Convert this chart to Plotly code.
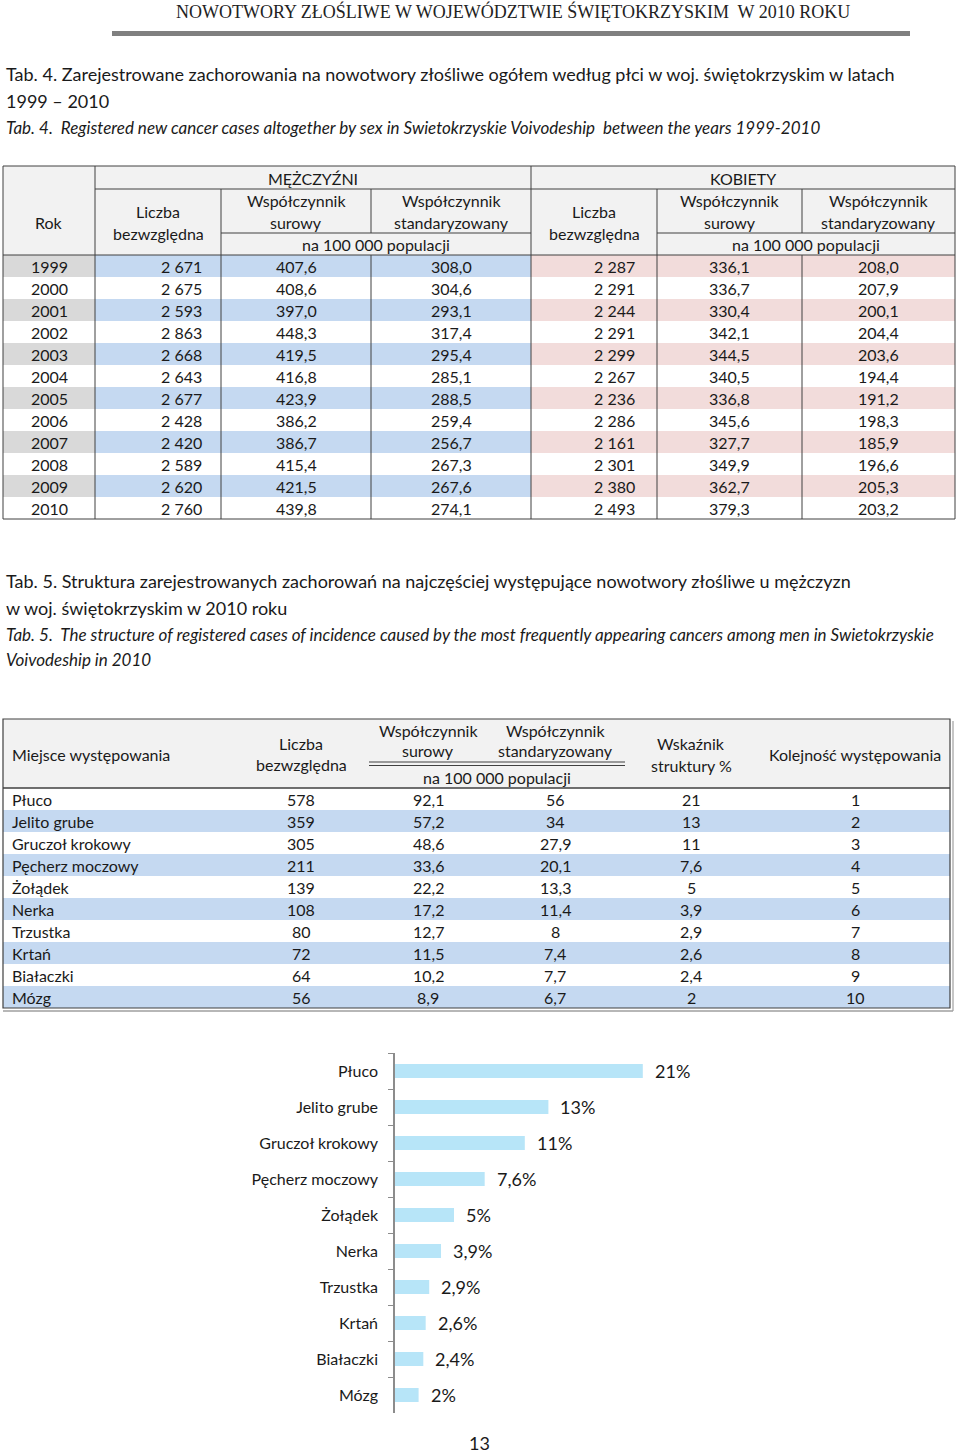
import plotly.graph_objects as go

# ---------------- data ----------------
years = [1999, 2000, 2001, 2002, 2003, 2004, 2005, 2006, 2007, 2008, 2009, 2010]
m_count = [2671, 2675, 2593, 2863, 2668, 2643, 2677, 2428, 2420, 2589, 2620, 2760]
m_crude = [407.6, 408.6, 397.0, 448.3, 419.5, 416.8, 423.9, 386.2, 386.7, 415.4, 421.5, 439.8]
m_std = [308.0, 304.6, 293.1, 317.4, 295.4, 285.1, 288.5, 259.4, 256.7, 267.3, 267.6, 274.1]
f_count = [2287, 2291, 2244, 2291, 2299, 2267, 2236, 2286, 2161, 2301, 2380, 2493]
f_crude = [336.1, 336.7, 330.4, 342.1, 344.5, 340.5, 336.8, 345.6, 327.7, 349.9, 362.7, 379.3]
f_std = [208.0, 207.9, 200.1, 204.4, 203.6, 194.4, 191.2, 198.3, 185.9, 196.6, 205.3, 203.2]

sites = ["Płuco", "Jelito grube", "Gruczoł krokowy", "Pęcherz moczowy", "Żołądek",
         "Nerka", "Trzustka", "Krtań", "Białaczki", "Mózg"]
site_count = [578, 359, 305, 211, 139, 108, 80, 72, 64, 56]
site_crude = [92.1, 57.2, 48.6, 33.6, 22.2, 17.2, 12.7, 11.5, 10.2, 8.9]
site_std = [56, 34, 27.9, 20.1, 13.3, 11.4, 8, 7.4, 7.7, 6.7]
site_share = [21, 13, 11, 7.6, 5, 3.9, 2.9, 2.6, 2.4, 2]
site_rank = [1, 2, 3, 4, 5, 6, 7, 8, 9, 10]

page_title = "NOWOTWORY ZŁOŚLIWE W WOJEWÓDZTWIE ŚWIĘTOKRZYSKIM\u00a0 W 2010 ROKU"
t4_pl1 = "Tab. 4. Zarejestrowane zachorowania na nowotwory złośliwe ogółem według płci w woj. świętokrzyskim w latach"
t4_pl2 = "1999 – 2010"
t4_en = "Tab. 4.\u00a0 Registered new cancer cases altogether by sex in Swietokrzyskie Voivodeship\u00a0 between the years 1999-2010"
t5_pl1 = "Tab. 5. Struktura zarejestrowanych zachorowań na najczęściej występujące nowotwory złośliwe u mężczyzn"
t5_pl2 = "w woj. świętokrzyskim w 2010 roku"
t5_en1 = "Tab. 5.\u00a0 The structure of registered cases of incidence caused by the most frequently appearing cancers among men in Swietokrzyskie"
t5_en2 = "Voivodeship in 2010"
page_no = "13"


def f1(v):
    return f"{v:.1f}".replace(".", ",")


def fg(v):
    return ("%g" % v).replace(".", ",")


def fth(n):
    return f"{n:,}".replace(",", " ")


# ---------------- styles ----------------
W, H = 960, 1453
TXT = "#1a1a1a"
LINE = "#404040"
HDR = "#f2f2f2"
GRAY = "#d9d9d9"
BLUE = "#c5d9f1"
PINK = "#f2dcdb"
BAR = "#b7e5f8"
BODY_FONT = "Lato, Calibri, Carlito, sans-serif"
TITLE_FONT = "Lato, sans-serif"
SERIF = "Liberation Serif, serif"
TITLE_SIZE = 18
SUB_SIZE = 17

shapes = []
annotations = []


def rect(x0, y0, x1, y1, fill):
    shapes.append(dict(type="rect", xref="x", yref="y", x0=x0, y0=y0, x1=x1, y1=y1,
                       fillcolor=fill, line=dict(width=0), layer="above"))


def line(x0, y0, x1, y1, color=LINE, width=1):
    shapes.append(dict(type="line", xref="x", yref="y", x0=x0, y0=y0, x1=x1, y1=y1,
                       line=dict(color=color, width=width), layer="above"))


def text(x, y, s, size=16, anchor="center", font=BODY_FONT, color=TXT):
    annotations.append(dict(xref="x", yref="y", x=x, y=y, text=s, showarrow=False,
                            xanchor=anchor, yanchor="middle",
                            font=dict(family=font, size=size, color=color)))


# ---------------- page header ----------------
text(513, 11, page_title, size=18, font=SERIF, color="#222")
line(112, 33.5, 910, 33.5, color="#808080", width=5)

text(4, 74, t4_pl1, size=TITLE_SIZE, anchor="left", font=TITLE_FONT)
text(4, 101, t4_pl2, size=TITLE_SIZE, anchor="left", font=TITLE_FONT)
text(4, 127, "<i>" + t4_en + "</i>", size=SUB_SIZE, anchor="left", font=TITLE_FONT)

# ---------------- table 4 ----------------
T1_TOP, T1_HDR_BOTTOM, ROW_H = 166, 255, 22
cols1 = [3, 95, 221, 371, 531, 657, 802, 955]
n1 = len(years)
T1_BOTTOM = T1_HDR_BOTTOM + ROW_H * n1

rect(cols1[0], T1_TOP, cols1[-1], T1_HDR_BOTTOM, HDR)
for i in range(n1):
    if i % 2 == 0:
        y0 = T1_HDR_BOTTOM + ROW_H * i
        rect(cols1[0], y0, cols1[1], y0 + ROW_H, GRAY)
        rect(cols1[1], y0, cols1[4], y0 + ROW_H, BLUE)
        rect(cols1[4], y0, cols1[7], y0 + ROW_H, PINK)

# grid lines
line(cols1[1], 189, cols1[7], 189)
line(cols1[2], 233, cols1[4], 233)
line(cols1[5], 233, cols1[7], 233)
line(cols1[0], T1_HDR_BOTTOM, cols1[7], T1_HDR_BOTTOM)
line(cols1[1], T1_TOP, cols1[1], T1_BOTTOM)
line(cols1[4], T1_TOP, cols1[4], T1_BOTTOM)
line(cols1[2], 189, cols1[2], T1_BOTTOM)
line(cols1[5], 189, cols1[5], T1_BOTTOM)
for c in (cols1[3], cols1[6]):
    line(c, 189, c, 233)
    line(c, T1_HDR_BOTTOM, c, T1_BOTTOM)
shapes.append(dict(type="rect", xref="x", yref="y", x0=cols1[0], y0=T1_TOP, x1=cols1[7],
                   y1=T1_BOTTOM, line=dict(color=LINE, width=1), fillcolor="rgba(0,0,0,0)",
                   layer="above"))

# header text
text((cols1[1] + cols1[4]) / 2, 178, "MĘŻCZYŹNI")
text((cols1[4] + cols1[7]) / 2, 178, "KOBIETY")
text((cols1[0] + cols1[1]) / 2, 222, "Rok")
for a, b, c, d in [(cols1[1], cols1[2], cols1[3], cols1[4]), (cols1[4], cols1[5], cols1[6], cols1[7])]:
    text((a + b) / 2, 211, "Liczba")
    text((a + b) / 2, 233, "bezwzględna")
    text((b + c) / 2, 200, "Współczynnik")
    text((b + c) / 2, 222, "surowy")
    text((c + d) / 2, 200, "Współczynnik")
    text((c + d) / 2, 222, "standaryzowany")
    text((b + d) / 2, 244, "na 100 000 populacji")

for i in range(n1):
    yc = T1_HDR_BOTTOM + ROW_H * i + ROW_H / 2
    text((cols1[0] + cols1[1]) / 2, yc, str(years[i]))
    text(cols1[2] - 17, yc, fth(m_count[i]), anchor="right")
    text((cols1[2] + cols1[3]) / 2, yc, f1(m_crude[i]))
    text((cols1[3] + cols1[4]) / 2, yc, f1(m_std[i]))
    text(cols1[5] - 20, yc, fth(f_count[i]), anchor="right")
    text((cols1[5] + cols1[6]) / 2, yc, f1(f_crude[i]))
    text((cols1[6] + cols1[7]) / 2, yc, f1(f_std[i]))

# ---------------- table 5 titles ----------------
text(4, 581, t5_pl1, size=TITLE_SIZE, anchor="left", font=TITLE_FONT)
text(4, 608, t5_pl2, size=TITLE_SIZE, anchor="left", font=TITLE_FONT)
text(4, 634, "<i>" + t5_en1 + "</i>", size=SUB_SIZE, anchor="left", font=TITLE_FONT)
text(4, 659, "<i>" + t5_en2 + "</i>", size=SUB_SIZE, anchor="left", font=TITLE_FONT)

# ---------------- table 5 ----------------
T2_L, T2_R, T2_TOP, T2_HDR_BOTTOM = 3, 950, 719, 788
n2 = len(sites)
T2_BOTTOM = T2_HDR_BOTTOM + ROW_H * n2
c_cnt, c_crude, c_std, c_share, c_rank = 301, 428, 555, 691, 855

rect(T2_L, T2_TOP, T2_R, T2_HDR_BOTTOM, HDR)
for i in range(n2):
    if i % 2 == 1:
        y0 = T2_HDR_BOTTOM + ROW_H * i
        rect(T2_L, y0, T2_R, y0 + ROW_H, BLUE)
line(369, 762, 625, 762)
line(369, 765.5, 625, 765.5)
line(T2_L, T2_HDR_BOTTOM, T2_R, T2_HDR_BOTTOM, width=1.3)
shapes.append(dict(type="rect", xref="x", yref="y", x0=T2_L, y0=T2_TOP, x1=T2_R,
                   y1=T2_BOTTOM, line=dict(color=LINE, width=1.2), fillcolor="rgba(0,0,0,0)",
                   layer="above"))
line(T2_L, T2_BOTTOM + 3, T2_R + 3, T2_BOTTOM + 3, color="#707070", width=1.2)
line(T2_R + 3, T2_TOP + 2, T2_R + 3, T2_BOTTOM + 3, color="#a0a0a0", width=1.2)

text(10, 754, "Miejsce występowania", anchor="left")
text(c_cnt, 743, "Liczba")
text(c_cnt, 764, "bezwzględna")
text(c_crude, 730, "Współczynnik")
text(c_crude, 750.5, "surowy")
text(c_std, 730, "Współczynnik")
text(c_std, 750.5, "standaryzowany")
text((c_crude + c_std) / 2 + 5, 777, "na 100 000 populacji")
text(c_share, 743, "Wskaźnik")
text(c_share, 765, "struktury %")
text(c_rank, 754, "Kolejność występowania")

for i in range(n2):
    yc = T2_HDR_BOTTOM + ROW_H * i + ROW_H / 2
    text(10, yc, sites[i], anchor="left")
    text(c_cnt, yc, str(site_count[i]))
    text(c_crude, yc, f1(site_crude[i]))
    text(c_std, yc, fg(site_std[i]))
    text(c_share, yc, fg(site_share[i]))
    text(c_rank, yc, str(site_rank[i]))

# page number
text(479, 1443, page_no, size=18)

# ---------------- bar chart ----------------
AX_X = 395
CH_TOP, CH_BOT = 1053, 1413
PX_PER_UNIT = 11.8

fig = go.Figure()
fig.add_trace(go.Bar(
    x=site_share, y=sites, orientation="h", xaxis="x2", yaxis="y2",
    marker=dict(color=BAR, line=dict(width=0)), hoverinfo="skip", showlegend=False,
))
for v, s in zip(site_share, sites):
    annotations.append(dict(xref="x2", yref="y2", x=v, y=s, text=fg(v) + "%",
                            showarrow=False, xanchor="left", yanchor="middle", xshift=10,
                            font=dict(family=BODY_FONT, size=18, color=TXT)))

fig.update_layout(
    width=W, height=H,
    margin=dict(l=0, r=0, t=0, b=0),
    paper_bgcolor="white", plot_bgcolor="rgba(0,0,0,0)",
    showlegend=False,
    bargap=0.61,
    xaxis=dict(range=[0, W], domain=[0, 1], visible=False, fixedrange=True),
    yaxis=dict(range=[H, 0], domain=[0, 1], visible=False, fixedrange=True),
    xaxis2=dict(domain=[AX_X / W, 1], range=[0, (W - AX_X) / PX_PER_UNIT], visible=False,
                anchor="y2", fixedrange=True),
    yaxis2=dict(domain=[(H - CH_BOT) / H, (H - CH_TOP) / H], anchor="x2",
                type="category", categoryorder="array", categoryarray=sites,
                autorange="reversed", showline=True, linecolor="#8c8c8c", linewidth=1.5,
                ticks="outside", tickson="boundaries", ticklen=5, tickcolor="#8c8c8c",
                tickwidth=1.2, showgrid=False, zeroline=False,
                tickfont=dict(family=BODY_FONT, size=16, color=TXT),
                ticklabelstandoff=12, fixedrange=True),
    shapes=shapes,
    annotations=annotations,
)

fig.write_html(
    "out.html",
    config={"displayModeBar": False},
    post_script="document.body.style.margin='0px';document.body.style.overflow='hidden';",
)
